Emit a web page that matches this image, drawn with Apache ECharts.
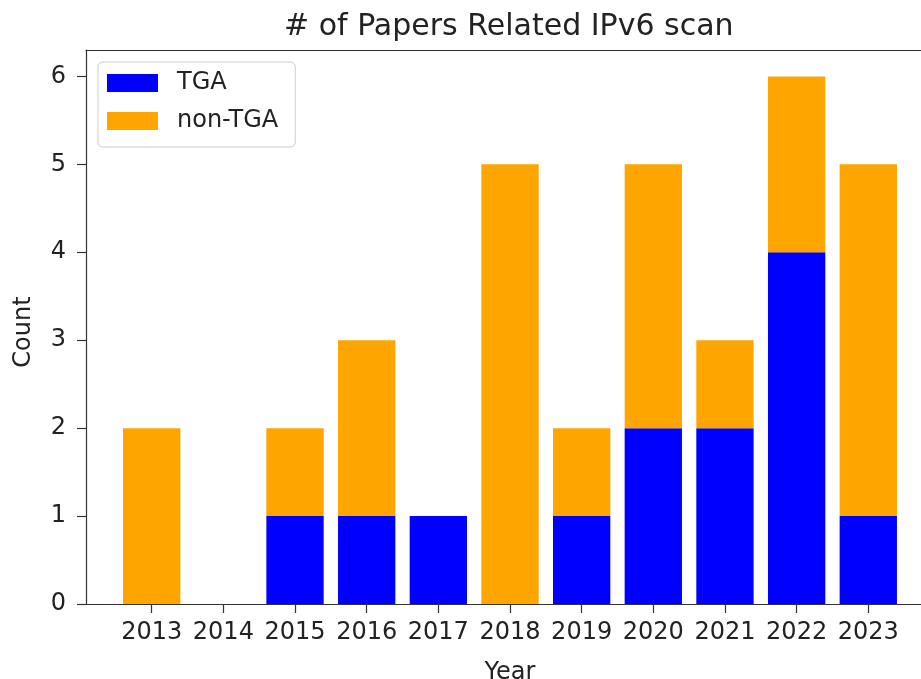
<!DOCTYPE html>
<html>
<head>
<meta charset="utf-8">
<script src="https://cdn.jsdelivr.net/npm/echarts@6/dist/echarts.min.js"></script>
<style>html,body{margin:0;padding:0;background:#fff}#c{width:921px;height:679px}</style>
</head>
<body>
<div id="c"></div>
<script>
const years = ['2013','2014','2015','2016','2017','2018','2019','2020','2021','2022','2023'];
const tga = [0,0,1,1,1,0,1,2,2,4,1];
const nonTga = [2,0,1,2,0,5,1,3,1,2,4];
const yTicks = [0,1,2,3,4,5,6];

const FONT = 'DejaVu Sans';
const TXT = '#222';
const AX = '#333';
const band = 71.66;
const plotLeft = 86, frameWidth = 850;
const barsLeft = 151.7 - band/2;
const chart = echarts.init(document.getElementById('c'), null, {renderer:'canvas'});
chart.setOption({
  animation:false,
  backgroundColor:'#fff',
  title:{text:'# of Papers Related IPv6 scan', left:279, top:7,
    textStyle:{fontFamily:FONT, fontSize:30, fontWeight:'normal', color:TXT}},
  legend:{orient:'vertical', left:98, top:62, icon:'rect', itemWidth:51, itemHeight:18, itemGap:14,
    backgroundColor:'rgba(255,255,255,0.8)', borderColor:'#cccccc', borderWidth:1, borderRadius:5,
    padding:[9,17,14,9],
    textStyle:{fontFamily:FONT, fontSize:24, color:TXT, padding:[0,0,0,14]},
    data:['TGA','non-TGA']},
  grid:[
    {left:barsLeft, top:50, width:band*years.length, height:554, outerBoundsMode:'none'},
    {left:plotLeft, top:50, width:frameWidth, height:554, show:false, outerBoundsMode:'none'}
  ],
  xAxis:[
    {gridIndex:0, type:'category', data:years, boundaryGap:true, name:'Year', nameLocation:'middle', nameGap:57,
     nameTextStyle:{fontFamily:FONT, fontSize:24, color:TXT},
     axisLine:{show:false},
     axisTick:{show:true, alignWithLabel:true, length:9, lineStyle:{color:AX, width:1.2}},
     axisLabel:{margin:17, interval:0, fontFamily:FONT, fontSize:24, color:TXT},
     splitLine:{show:false}},
    {gridIndex:1, type:'value', min:0, max:1, position:'bottom',
     axisLine:{show:true, onZero:false, lineStyle:{color:AX, width:1.2}},
     axisTick:{show:false}, axisLabel:{show:false}, splitLine:{show:false}},
    {gridIndex:1, type:'value', min:0, max:1, position:'top',
     axisLine:{show:true, onZero:false, lineStyle:{color:AX, width:1.2}},
     axisTick:{show:false}, axisLabel:{show:false}, splitLine:{show:false}}
  ],
  yAxis:[
    {gridIndex:0, type:'value', min:0, max:6.3,
     axisLine:{show:false}, axisTick:{show:false}, axisLabel:{show:false}, splitLine:{show:false}},
    {gridIndex:1, type:'value', min:0, max:6.3, name:'Count', nameLocation:'middle', nameGap:50, nameRotate:90,
     nameTextStyle:{fontFamily:FONT, fontSize:24, color:TXT, padding:[0,10,0,0]},
     axisLine:{show:true, onZero:false, lineStyle:{color:AX, width:1.2}},
     axisTick:{show:true, length:9, lineStyle:{color:AX, width:1.2}, customValues:yTicks},
     axisLabel:{customValues:yTicks, margin:20, fontFamily:FONT, fontSize:24, color:TXT},
     splitLine:{show:false}}
  ],
  series:[
    {name:'TGA', type:'bar', stack:'s', xAxisIndex:0, yAxisIndex:0, barWidth:'80%',
     itemStyle:{color:'#0000ff'}, data:tga},
    {name:'non-TGA', type:'bar', stack:'s', xAxisIndex:0, yAxisIndex:0, barWidth:'80%',
     itemStyle:{color:'#ffa500'}, data:nonTga}
  ]
});
</script>
</body>
</html>
